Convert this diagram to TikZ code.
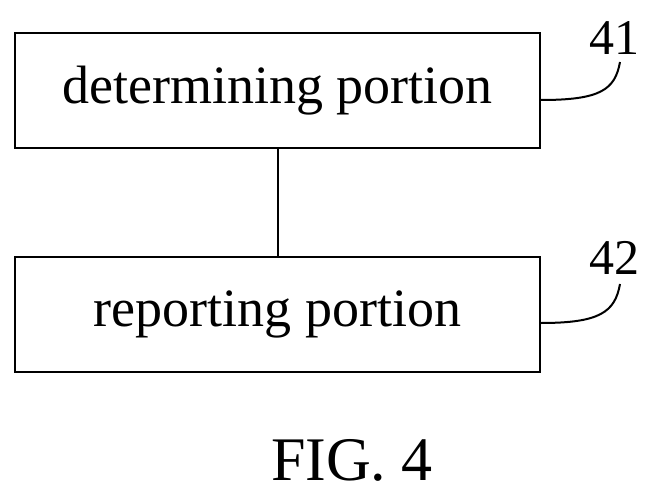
\documentclass[tikz,border=0pt]{standalone}
\usepackage{fontspec}
\setmainfont{Liberation Serif}
\begin{document}
\begin{tikzpicture}[x=1pt,y=-1pt,
  box/.style={draw,line width=2pt,minimum width=525pt,minimum height=115pt,inner sep=0pt,font=\fontsize{54}{60}\selectfont},
  lbl/.style={font=\fontsize{50}{56}\selectfont,inner sep=0pt},
  lead/.style={line width=2pt}]
\useasboundingbox (0,0) rectangle (648,492);
\node[box] (a) at (277.5,90.5) {determining portion};
\node[box] (b) at (277.5,314) {reporting portion};
\draw[lead] (a.south) -- (b.north);
\node[lbl] (n41) at (614,38) {41};
\node[lbl] (n42) at (614,258) {42};
\coordinate (e41) at (620,62);
\coordinate (e42) at (620,284);
\draw[lead] (a.east |- 0,100) .. controls (600,100) and (615,90) .. (e41);
\draw[lead] (b.east |- 0,323) .. controls (600,323) and (615,312) .. (e42);
\node[font=\fontsize{62}{70}\selectfont,inner sep=0pt] (fig) at (352,460) {FIG. 4};
\end{tikzpicture}
\end{document}
